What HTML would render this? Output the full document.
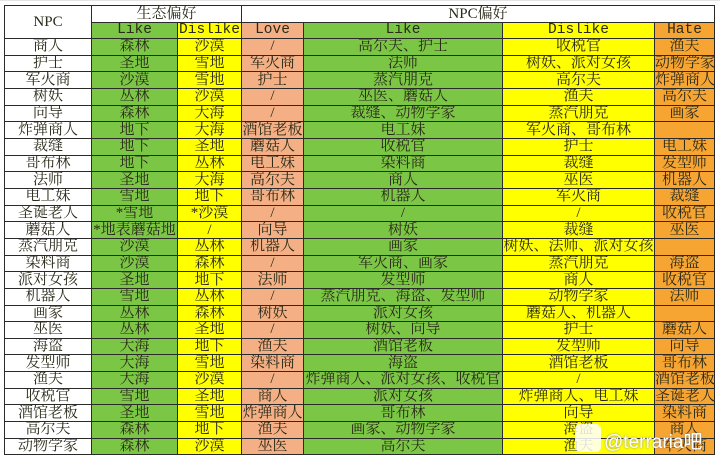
<!DOCTYPE html>
<html><head><meta charset="utf-8"><style>
body{margin:0;background:#fff;width:720px;height:461px;overflow:hidden;position:relative;font-family:"Liberation Serif","Noto Serif CJK SC",serif;}
.g{position:absolute;background:#e4e4e4}
table{position:absolute;left:4px;top:5px;border-collapse:collapse;table-layout:fixed;width:710px;}
td{border:1px solid #2a2a2a;padding:0;text-align:center;font-size:15px;line-height:15px;height:15.66px;white-space:nowrap;overflow:hidden;color:#2a2a1a;}
tr.h1 td{height:16px;background:#fff}
tr.h2 td{height:15px;font-family:"Liberation Mono",monospace;font-size:14.5px}
td.a{background:#fff}
td.b{background:#7cc646}
td.c{background:#ffff00}
td.d{background:#f4b084}
td.e{background:#7cc646}
td.f{background:#ffff00}
td.h{background:#f6a532}
.wm{position:absolute;left:575px;top:424px;width:26px;height:28px;background:#fff;border-radius:5px;opacity:.85}
.wt{position:absolute;left:604px;top:427px;font-family:"Liberation Sans","Noto Sans CJK SC",sans-serif;font-size:19px;color:#fff;text-shadow:0 0 2px #888}
</style></head><body>
<div class="g" style="left:0;top:0;width:720px;height:1px"></div>
<table>
<colgroup><col style="width:87px"><col style="width:86px"><col style="width:64px"><col style="width:62px"><col style="width:199px"><col style="width:152px"><col style="width:60px"></colgroup>
<tr class="h1"><td class="a" rowspan="2">NPC</td><td colspan="2">生态偏好</td><td colspan="4">NPC偏好</td></tr>
<tr class="h2"><td class="b">Like</td><td class="c">Dislike</td><td class="d">Love</td><td class="e">Like</td><td class="f">Dislike</td><td class="h">Hate</td></tr>
<tr><td class="a">商人</td><td class="b">森林</td><td class="c">沙漠</td><td class="d">/</td><td class="e">高尔夫、护士</td><td class="f">收税官</td><td class="h">渔夫</td></tr>
<tr><td class="a">护士</td><td class="b">圣地</td><td class="c">雪地</td><td class="d">军火商</td><td class="e">法师</td><td class="f">树妖、派对女孩</td><td class="h">动物学家</td></tr>
<tr><td class="a">军火商</td><td class="b">沙漠</td><td class="c">雪地</td><td class="d">护士</td><td class="e">蒸汽朋克</td><td class="f">高尔夫</td><td class="h">炸弹商人</td></tr>
<tr><td class="a">树妖</td><td class="b">丛林</td><td class="c">沙漠</td><td class="d">/</td><td class="e">巫医、蘑菇人</td><td class="f">渔夫</td><td class="h">高尔夫</td></tr>
<tr><td class="a">向导</td><td class="b">森林</td><td class="c">大海</td><td class="d">/</td><td class="e">裁缝、动物学家</td><td class="f">蒸汽朋克</td><td class="h">画家</td></tr>
<tr><td class="a">炸弹商人</td><td class="b">地下</td><td class="c">大海</td><td class="d">酒馆老板</td><td class="e">电工妹</td><td class="f">军火商、哥布林</td><td class="h"></td></tr>
<tr><td class="a">裁缝</td><td class="b">地下</td><td class="c">圣地</td><td class="d">蘑菇人</td><td class="e">收税官</td><td class="f">护士</td><td class="h">电工妹</td></tr>
<tr><td class="a">哥布林</td><td class="b">地下</td><td class="c">丛林</td><td class="d">电工妹</td><td class="e">染料商</td><td class="f">裁缝</td><td class="h">发型师</td></tr>
<tr><td class="a">法师</td><td class="b">圣地</td><td class="c">大海</td><td class="d">高尔夫</td><td class="e">商人</td><td class="f">巫医</td><td class="h">机器人</td></tr>
<tr><td class="a">电工妹</td><td class="b">雪地</td><td class="c">地下</td><td class="d">哥布林</td><td class="e">机器人</td><td class="f">军火商</td><td class="h">裁缝</td></tr>
<tr><td class="a">圣诞老人</td><td class="b">*雪地</td><td class="c">*沙漠</td><td class="d">/</td><td class="e">/</td><td class="f">/</td><td class="h">收税官</td></tr>
<tr><td class="a">蘑菇人</td><td class="b">*地表蘑菇地</td><td class="c">/</td><td class="d">向导</td><td class="e">树妖</td><td class="f">裁缝</td><td class="h">巫医</td></tr>
<tr><td class="a">蒸汽朋克</td><td class="b">沙漠</td><td class="c">丛林</td><td class="d">机器人</td><td class="e">画家</td><td class="f">树妖、法师、派对女孩</td><td class="h"></td></tr>
<tr><td class="a">染料商</td><td class="b">沙漠</td><td class="c">森林</td><td class="d">/</td><td class="e">军火商、画家</td><td class="f">蒸汽朋克</td><td class="h">海盗</td></tr>
<tr><td class="a">派对女孩</td><td class="b">圣地</td><td class="c">地下</td><td class="d">法师</td><td class="e">发型师</td><td class="f">商人</td><td class="h">收税官</td></tr>
<tr><td class="a">机器人</td><td class="b">雪地</td><td class="c">丛林</td><td class="d">/</td><td class="e">蒸汽朋克、海盗、发型师</td><td class="f">动物学家</td><td class="h">法师</td></tr>
<tr><td class="a">画家</td><td class="b">丛林</td><td class="c">森林</td><td class="d">树妖</td><td class="e">派对女孩</td><td class="f">蘑菇人、机器人</td><td class="h"></td></tr>
<tr><td class="a">巫医</td><td class="b">丛林</td><td class="c">圣地</td><td class="d">/</td><td class="e">树妖、向导</td><td class="f">护士</td><td class="h">蘑菇人</td></tr>
<tr><td class="a">海盗</td><td class="b">大海</td><td class="c">地下</td><td class="d">渔夫</td><td class="e">酒馆老板</td><td class="f">发型师</td><td class="h">向导</td></tr>
<tr><td class="a">发型师</td><td class="b">大海</td><td class="c">雪地</td><td class="d">染料商</td><td class="e">海盗</td><td class="f">酒馆老板</td><td class="h">哥布林</td></tr>
<tr><td class="a">渔夫</td><td class="b">大海</td><td class="c">沙漠</td><td class="d">/</td><td class="e">炸弹商人、派对女孩、收税官</td><td class="f">/</td><td class="h">酒馆老板</td></tr>
<tr><td class="a">收税官</td><td class="b">雪地</td><td class="c">圣地</td><td class="d">商人</td><td class="e">派对女孩</td><td class="f">炸弹商人、电工妹</td><td class="h">圣诞老人</td></tr>
<tr><td class="a">酒馆老板</td><td class="b">圣地</td><td class="c">雪地</td><td class="d">炸弹商人</td><td class="e">哥布林</td><td class="f">向导</td><td class="h">染料商</td></tr>
<tr><td class="a">高尔夫</td><td class="b">森林</td><td class="c">地下</td><td class="d">渔夫</td><td class="e">画家、动物学家</td><td class="f">海盗</td><td class="h">商人</td></tr>
<tr><td class="a">动物学家</td><td class="b">森林</td><td class="c">沙漠</td><td class="d">巫医</td><td class="e">高尔夫</td><td class="f">渔夫</td><td class="h">军火商</td></tr>
</table>
<div class="wm"></div>
<div class="wt">@terraria吧</div>
</body></html>
